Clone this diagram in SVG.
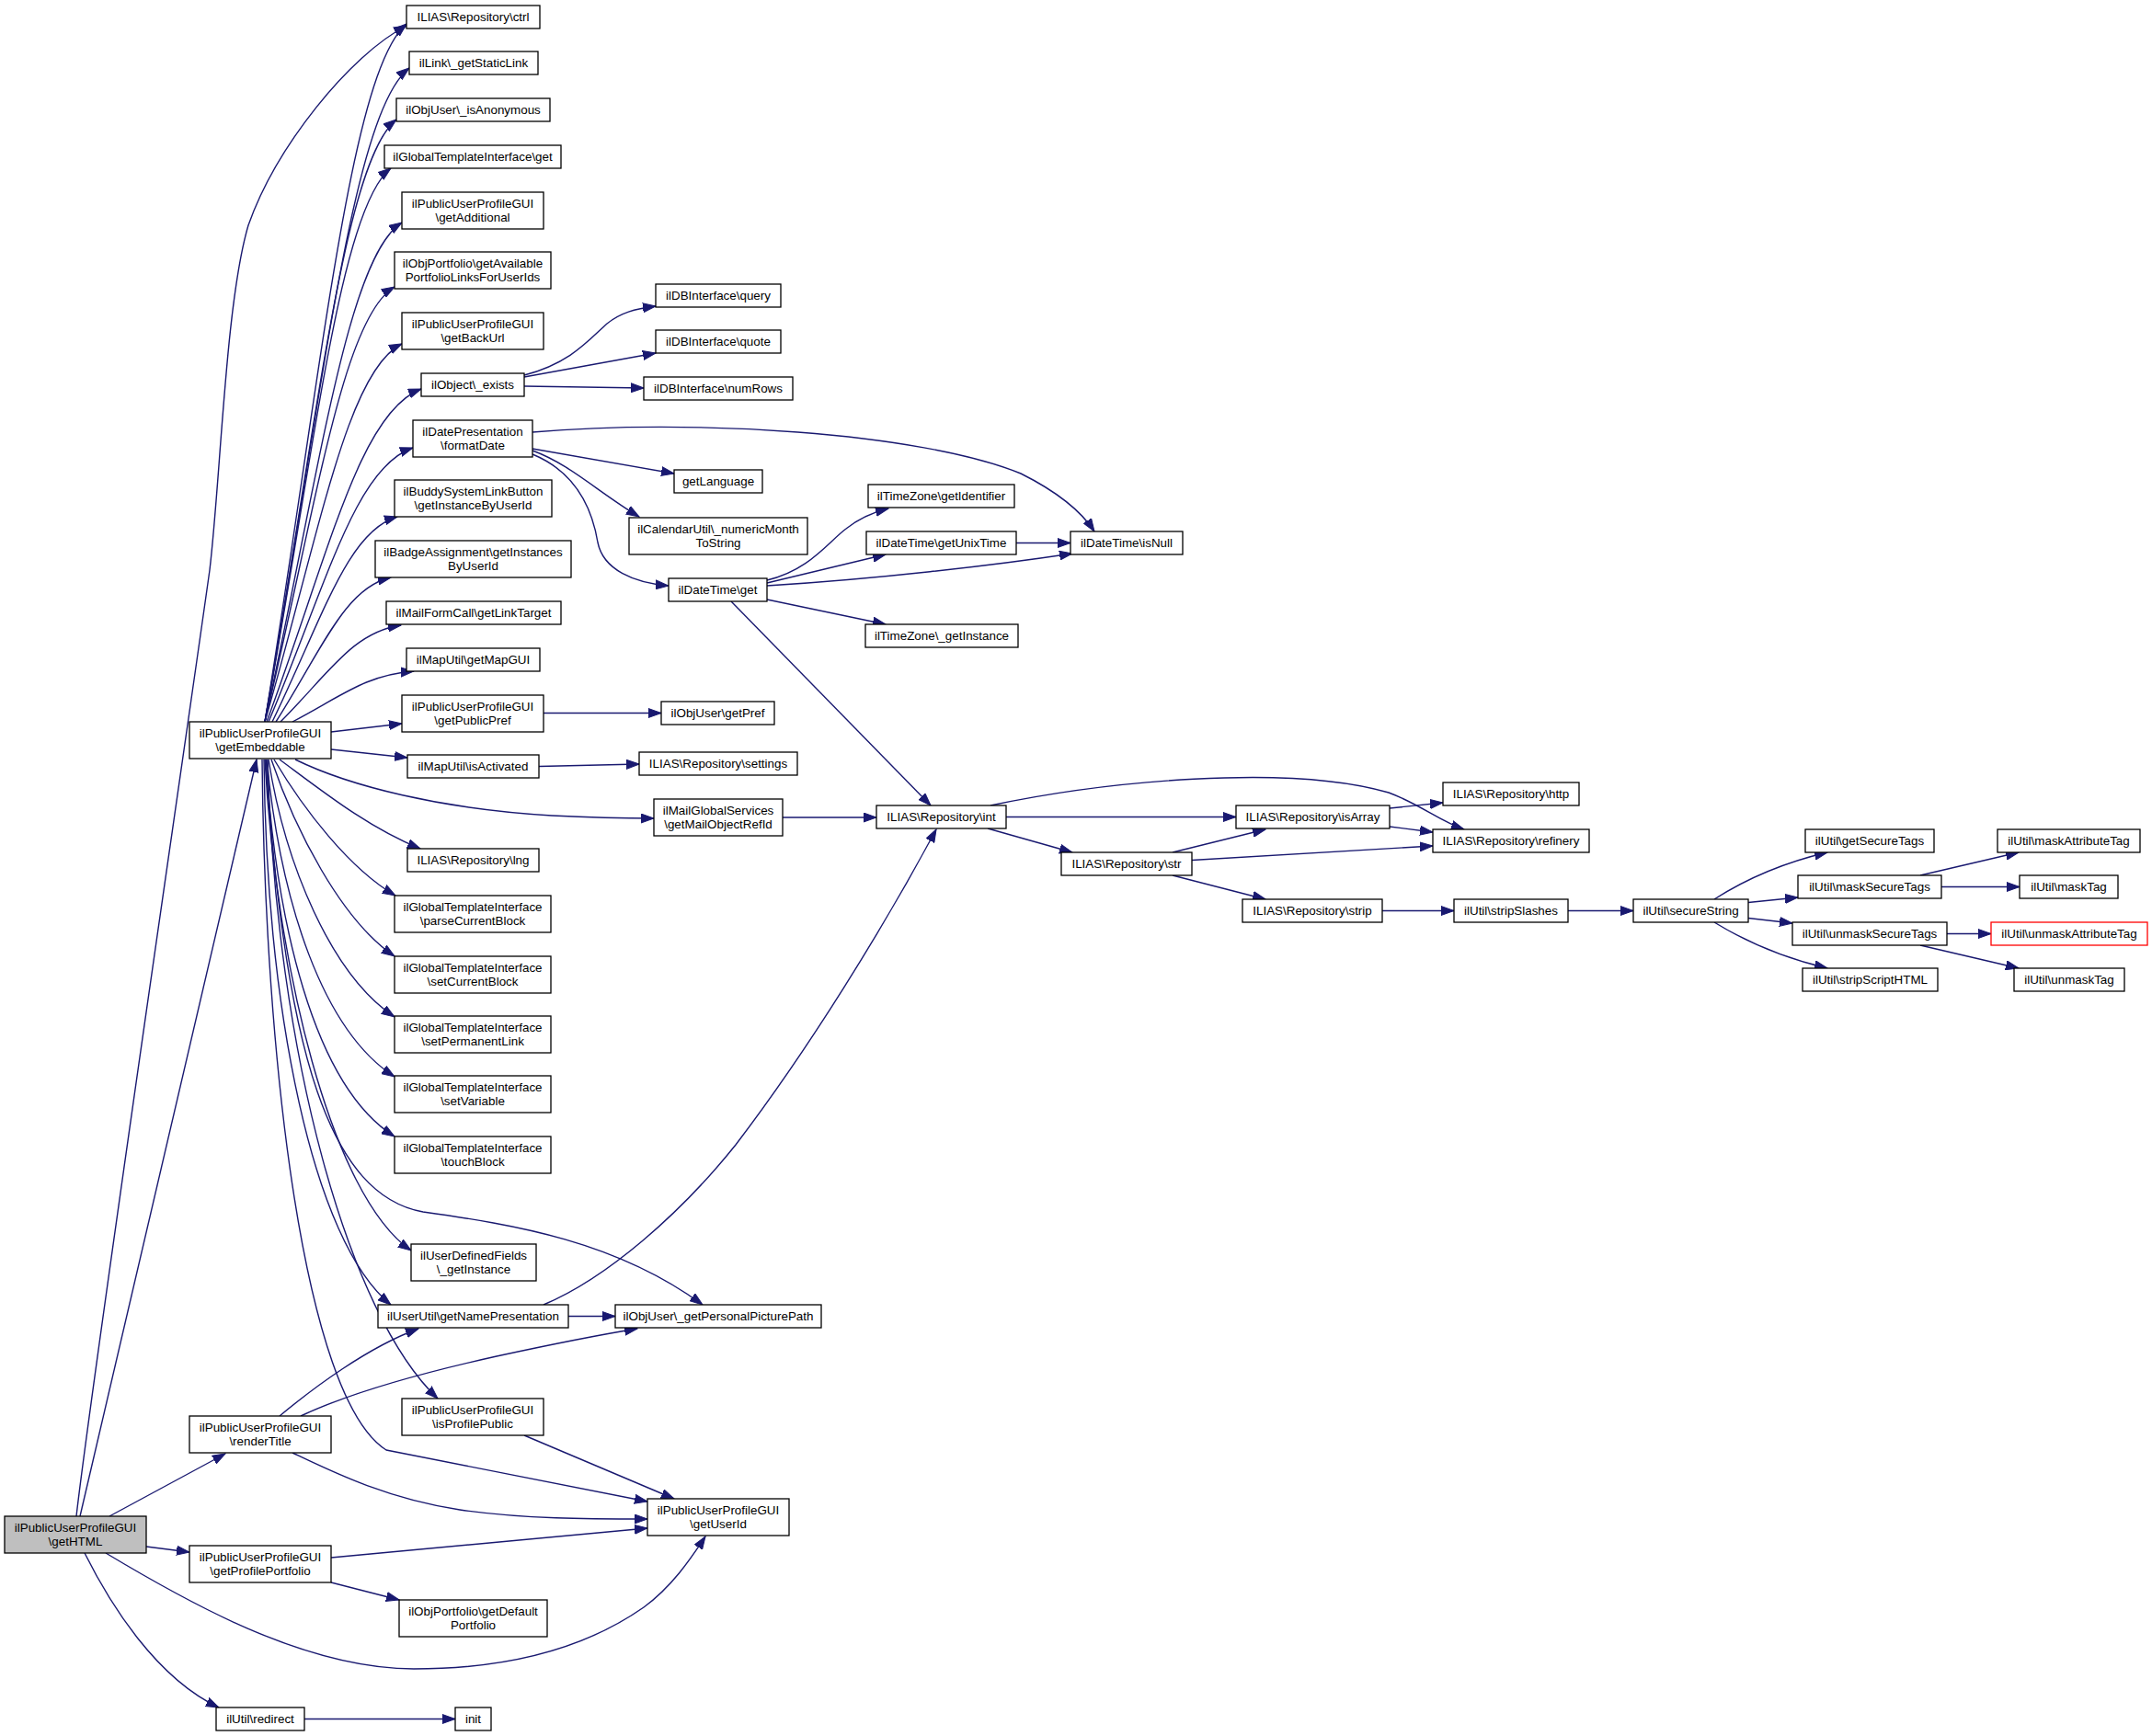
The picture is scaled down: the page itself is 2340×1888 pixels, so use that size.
<svg xmlns="http://www.w3.org/2000/svg" width="2340" height="1888" viewBox="0 0 2340 1888">
<style>
.node rect{fill:#fff;stroke:#000;stroke-width:1.3}
.node rect.main{fill:#bfbfbf}
.node rect.red{stroke:#ff0000}
.node text{font-family:"Liberation Sans",Arial,Helvetica,sans-serif;font-size:13.4px;text-anchor:middle;fill:#000}
.edges path{fill:none;stroke:#191970;stroke-width:1.4;marker-end:url(#arr)}
</style>
<defs>
<marker id="arr" markerUnits="userSpaceOnUse" markerWidth="15" markerHeight="11" refX="14" refY="5.5" orient="auto" viewBox="0 0 15 11"><path d="M0,0.5 L14,5.5 L0,10.5 z" fill="#191970" stroke="#191970" stroke-width="1"/></marker>
</defs>
<rect x="0" y="0" width="2340" height="1888" fill="#fff"/>
<g class="edges" id="connectors">
<path d="M83,1649 C100,1500 200,820 228,620 C240,520 245,330 270,245 C300,160 380,60 442,28"/>
<path d="M87,1649 L279,826"/>
<path d="M119,1649 L245,1581"/>
<path d="M159,1682 L206,1688"/>
<path d="M115,1689 C200,1740 330,1815 450,1815 C560,1815 640,1790 700,1748 C730,1726 750,1697 767,1671"/>
<path d="M92,1689 C120,1745 170,1825 238,1857"/>
<path d="M304,1540 C340,1510 400,1465 455,1445"/>
<path d="M327,1540 C380,1515 450,1495 540,1475 C600,1462 650,1452 693,1445"/>
<path d="M318,1580 C360,1600 420,1630 500,1642 C570,1652 640,1652 704,1652"/>
<path d="M360,1694 L704,1662"/>
<path d="M360,1721 L434,1740"/>
<path d="M331,1869.5 L495,1869.5"/>
<path d="M570,1561 L733,1630"/>
<path d="M288,785 C349.6,405.5 380.4,79 442,26"/>
<path d="M288,785 C350.8,429.5 382.2,123.8 445,74"/>
<path d="M288,785 C345.2,457.5 373.8,175.9 431,130"/>
<path d="M288,785 C342.8,484 370.2,225.1 425,183"/>
<path d="M288,785 C347.6,513.5 377.4,280 437,242"/>
<path d="M288,785 C344.4,548.5 372.6,345.1 429,312"/>
<path d="M288,785 C347.6,579.5 377.4,402.8 437,374"/>
<path d="M290,785 C357.2,604 390.8,448.3 458,423"/>
<path d="M292,785 C354.8,636 386.2,507.9 449,487"/>
<path d="M296,785 C350.4,673.5 377.6,577.6 432,562"/>
<path d="M300,785 C350,706.5 375,639 425,628"/>
<path d="M305,785 C357.4,732.5 383.6,687.4 436,680"/>
<path d="M318,785 C370.8,757.5 397.2,733.9 450,730"/>
<path d="M360,796 L437,787"/>
<path d="M360,815 L443,824"/>
<path d="M321,826 C380,855 480,880 600,887 C640,889 680,890 711,890"/>
<path d="M304,826 C350,860 400,900 457,923"/>
<path d="M298,826 C330,880 380,945 430,974"/>
<path d="M295,826 C320,900 370,1000 429,1040"/>
<path d="M292,826 C310,940 360,1060 429,1106"/>
<path d="M290,826 C305,980 350,1120 429,1171"/>
<path d="M289,826 C300,1000 340,1180 429,1236"/>
<path d="M288,826 C300,1050 360,1300 447,1360"/>
<path d="M287,826 C290,1100 340,1350 425,1419"/>
<path d="M289,826 C310,1150 360,1300 460,1318 C560,1332 670,1350 764,1419"/>
<path d="M291,826 C300,1150 380,1430 476,1521"/>
<path d="M285,826 C288,1150 330,1520 420,1577 L704,1633"/>
<path d="M570,408 C620,395 640,370 660,352 C675,340 690,336 713,333"/>
<path d="M570,410 L713,384"/>
<path d="M570,420 L700,422"/>
<path d="M579,470 C750,455 1000,470 1110,515 C1150,535 1175,555 1190,578"/>
<path d="M579,488 L733,515"/>
<path d="M579,490 C620,505 650,535 695,562"/>
<path d="M579,494 C630,515 645,560 650,590 C656,620 690,634 727,637"/>
<path d="M834,631 C880,620 900,590 920,575 C935,563 950,557 966,553"/>
<path d="M834,634 L963,603"/>
<path d="M834,637 C950,630 1080,615 1166,602"/>
<path d="M1105,590.5 L1164,590.5"/>
<path d="M834,652 L963,679"/>
<path d="M795,654 L1012,876"/>
<path d="M591,775.5 L719,775.5"/>
<path d="M586,833.5 L695,831"/>
<path d="M851,889 L953,889"/>
<path d="M591,1419 C660,1390 740,1320 800,1245 C880,1140 960,1010 1018,902"/>
<path d="M618,1431.5 L669,1431.5"/>
<path d="M1094,888.5 L1344,888.5"/>
<path d="M1074,901 L1166,927"/>
<path d="M1077,876 C1200,850 1400,830 1510,862 C1545,875 1565,893 1592,902"/>
<path d="M1511,879 L1569,873"/>
<path d="M1511,899 L1558,905"/>
<path d="M1275,927 L1376,902"/>
<path d="M1296,935.5 L1558,920"/>
<path d="M1275,952 L1376,978"/>
<path d="M1503,990.5 L1581,990.5"/>
<path d="M1705,990.5 L1776,990.5"/>
<path d="M1864,978 C1900,955 1940,938 1987,927"/>
<path d="M1901,981.5 L1955,976"/>
<path d="M1901,998.5 L1949,1004"/>
<path d="M1864,1003 C1900,1025 1940,1042 1987,1053"/>
<path d="M2088,952 L2195,927"/>
<path d="M2111,964.5 L2196,964.5"/>
<path d="M2117,1015.5 L2165,1015.5"/>
<path d="M2088,1028 L2195,1053"/>
</g>
<g class="node" id="n_getHTML"><rect class="main" x="5" y="1649" width="154" height="40"/><text x="82" y="1665.5">ilPublicUserProfileGUI</text><text x="82" y="1680.5">\getHTML</text></g>
<g class="node" id="n_getEmbeddable"><rect x="206" y="785" width="154" height="40"/><text x="283" y="801.5">ilPublicUserProfileGUI</text><text x="283" y="816.5">\getEmbeddable</text></g>
<g class="node" id="n_renderTitle"><rect x="206" y="1540" width="154" height="40"/><text x="283" y="1556.5">ilPublicUserProfileGUI</text><text x="283" y="1571.5">\renderTitle</text></g>
<g class="node" id="n_getProfilePortfolio"><rect x="206" y="1681" width="154" height="40"/><text x="283" y="1697.5">ilPublicUserProfileGUI</text><text x="283" y="1712.5">\getProfilePortfolio</text></g>
<g class="node" id="n_redirect"><rect x="235" y="1857" width="96" height="25"/><text x="283" y="1874">ilUtil\redirect</text></g>
<g class="node" id="n_ctrl"><rect x="442" y="6" width="145" height="25"/><text x="514.5" y="23">ILIAS\Repository\ctrl</text></g>
<g class="node" id="n_getStaticLink"><rect x="445" y="56" width="140" height="25"/><text x="515" y="73">ilLink\_getStaticLink</text></g>
<g class="node" id="n_isAnonymous"><rect x="431" y="107" width="167" height="25"/><text x="514.5" y="124">ilObjUser\_isAnonymous</text></g>
<g class="node" id="n_gti_get"><rect x="418" y="158" width="192" height="25"/><text x="514" y="175">ilGlobalTemplateInterface\get</text></g>
<g class="node" id="n_getAdditional"><rect x="437" y="209" width="154" height="40"/><text x="514" y="225.5">ilPublicUserProfileGUI</text><text x="514" y="240.5">\getAdditional</text></g>
<g class="node" id="n_getAvailable"><rect x="429" y="274" width="170" height="40"/><text x="514" y="290.5">ilObjPortfolio\getAvailable</text><text x="514" y="305.5">PortfolioLinksForUserIds</text></g>
<g class="node" id="n_getBackUrl"><rect x="437" y="340" width="154" height="40"/><text x="514" y="356.5">ilPublicUserProfileGUI</text><text x="514" y="371.5">\getBackUrl</text></g>
<g class="node" id="n_exists"><rect x="458" y="406" width="112" height="25"/><text x="514" y="423">ilObject\_exists</text></g>
<g class="node" id="n_formatDate"><rect x="449" y="457" width="130" height="40"/><text x="514" y="473.5">ilDatePresentation</text><text x="514" y="488.5">\formatDate</text></g>
<g class="node" id="n_buddy"><rect x="429" y="522" width="171" height="40"/><text x="514.5" y="538.5">ilBuddySystemLinkButton</text><text x="514.5" y="553.5">\getInstanceByUserId</text></g>
<g class="node" id="n_badge"><rect x="408" y="588" width="213" height="40"/><text x="514.5" y="604.5">ilBadgeAssignment\getInstances</text><text x="514.5" y="619.5">ByUserId</text></g>
<g class="node" id="n_mailFormCall"><rect x="420" y="654" width="190" height="25"/><text x="515" y="671">ilMailFormCall\getLinkTarget</text></g>
<g class="node" id="n_getMapGUI"><rect x="442" y="705" width="145" height="25"/><text x="514.5" y="722">ilMapUtil\getMapGUI</text></g>
<g class="node" id="n_getPublicPref"><rect x="437" y="756" width="154" height="40"/><text x="514" y="772.5">ilPublicUserProfileGUI</text><text x="514" y="787.5">\getPublicPref</text></g>
<g class="node" id="n_isActivated"><rect x="443" y="821" width="143" height="25"/><text x="514.5" y="838">ilMapUtil\isActivated</text></g>
<g class="node" id="n_lng"><rect x="443" y="923" width="143" height="25"/><text x="514.5" y="940">ILIAS\Repository\lng</text></g>
<g class="node" id="n_parseCurrentBlock"><rect x="429" y="974" width="170" height="40"/><text x="514" y="990.5">ilGlobalTemplateInterface</text><text x="514" y="1005.5">\parseCurrentBlock</text></g>
<g class="node" id="n_setCurrentBlock"><rect x="429" y="1040" width="170" height="40"/><text x="514" y="1056.5">ilGlobalTemplateInterface</text><text x="514" y="1071.5">\setCurrentBlock</text></g>
<g class="node" id="n_setPermanentLink"><rect x="429" y="1105" width="170" height="40"/><text x="514" y="1121.5">ilGlobalTemplateInterface</text><text x="514" y="1136.5">\setPermanentLink</text></g>
<g class="node" id="n_setVariable"><rect x="429" y="1170" width="170" height="40"/><text x="514" y="1186.5">ilGlobalTemplateInterface</text><text x="514" y="1201.5">\setVariable</text></g>
<g class="node" id="n_touchBlock"><rect x="429" y="1236" width="170" height="40"/><text x="514" y="1252.5">ilGlobalTemplateInterface</text><text x="514" y="1267.5">\touchBlock</text></g>
<g class="node" id="n_udf"><rect x="447" y="1353" width="136" height="40"/><text x="515" y="1369.5">ilUserDefinedFields</text><text x="515" y="1384.5">\_getInstance</text></g>
<g class="node" id="n_getNamePresentation"><rect x="411" y="1419" width="207" height="25"/><text x="514.5" y="1436">ilUserUtil\getNamePresentation</text></g>
<g class="node" id="n_isProfilePublic"><rect x="437" y="1521" width="154" height="40"/><text x="514" y="1537.5">ilPublicUserProfileGUI</text><text x="514" y="1552.5">\isProfilePublic</text></g>
<g class="node" id="n_getDefaultPortfolio"><rect x="434" y="1740" width="161" height="40"/><text x="514.5" y="1756.5">ilObjPortfolio\getDefault</text><text x="514.5" y="1771.5">Portfolio</text></g>
<g class="node" id="n_init"><rect x="495" y="1857" width="39" height="25"/><text x="514.5" y="1874">init</text></g>
<g class="node" id="n_query"><rect x="713" y="309" width="136" height="25"/><text x="781" y="326">ilDBInterface\query</text></g>
<g class="node" id="n_quote"><rect x="713" y="359" width="136" height="25"/><text x="781" y="376">ilDBInterface\quote</text></g>
<g class="node" id="n_numRows"><rect x="700" y="410" width="162" height="25"/><text x="781" y="427">ilDBInterface\numRows</text></g>
<g class="node" id="n_getLanguage"><rect x="733" y="511" width="96" height="25"/><text x="781" y="528">getLanguage</text></g>
<g class="node" id="n_numericMonth"><rect x="684" y="563" width="194" height="40"/><text x="781" y="579.5">ilCalendarUtil\_numericMonth</text><text x="781" y="594.5">ToString</text></g>
<g class="node" id="n_dt_get"><rect x="727" y="629" width="107" height="25"/><text x="780.5" y="646">ilDateTime\get</text></g>
<g class="node" id="n_getIdentifier"><rect x="944" y="527" width="159" height="25"/><text x="1023.5" y="544">ilTimeZone\getIdentifier</text></g>
<g class="node" id="n_getUnixTime"><rect x="942" y="578" width="163" height="25"/><text x="1023.5" y="595">ilDateTime\getUnixTime</text></g>
<g class="node" id="n_isNull"><rect x="1164" y="578" width="122" height="25"/><text x="1225" y="595">ilDateTime\isNull</text></g>
<g class="node" id="n_tz_getInstance"><rect x="941" y="679" width="166" height="25"/><text x="1024" y="696">ilTimeZone\_getInstance</text></g>
<g class="node" id="n_getPref"><rect x="719" y="763" width="123" height="25"/><text x="780.5" y="780">ilObjUser\getPref</text></g>
<g class="node" id="n_settings"><rect x="695" y="818" width="172" height="25"/><text x="781" y="835">ILIAS\Repository\settings</text></g>
<g class="node" id="n_mailGlobal"><rect x="711" y="869" width="140" height="40"/><text x="781" y="885.5">ilMailGlobalServices</text><text x="781" y="900.5">\getMailObjectRefId</text></g>
<g class="node" id="n_int"><rect x="953" y="876" width="141" height="25"/><text x="1023.5" y="893">ILIAS\Repository\int</text></g>
<g class="node" id="n_picturePath"><rect x="669" y="1419" width="224" height="25"/><text x="781" y="1436">ilObjUser\_getPersonalPicturePath</text></g>
<g class="node" id="n_getUserId"><rect x="704" y="1630" width="154" height="40"/><text x="781" y="1646.5">ilPublicUserProfileGUI</text><text x="781" y="1661.5">\getUserId</text></g>
<g class="node" id="n_isArray"><rect x="1344" y="876" width="167" height="25"/><text x="1427.5" y="893">ILIAS\Repository\isArray</text></g>
<g class="node" id="n_http"><rect x="1569" y="851" width="148" height="25"/><text x="1643" y="868">ILIAS\Repository\http</text></g>
<g class="node" id="n_refinery"><rect x="1558" y="902" width="170" height="25"/><text x="1643" y="919">ILIAS\Repository\refinery</text></g>
<g class="node" id="n_str"><rect x="1154" y="927" width="142" height="25"/><text x="1225" y="944">ILIAS\Repository\str</text></g>
<g class="node" id="n_strip"><rect x="1351" y="978" width="152" height="25"/><text x="1427" y="995">ILIAS\Repository\strip</text></g>
<g class="node" id="n_stripSlashes"><rect x="1581" y="978" width="124" height="25"/><text x="1643" y="995">ilUtil\stripSlashes</text></g>
<g class="node" id="n_secureString"><rect x="1776" y="978" width="125" height="25"/><text x="1838.5" y="995">ilUtil\secureString</text></g>
<g class="node" id="n_getSecureTags"><rect x="1963" y="902" width="140" height="25"/><text x="2033" y="919">ilUtil\getSecureTags</text></g>
<g class="node" id="n_maskSecureTags"><rect x="1955" y="952" width="156" height="25"/><text x="2033" y="969">ilUtil\maskSecureTags</text></g>
<g class="node" id="n_unmaskSecureTags"><rect x="1949" y="1003" width="168" height="25"/><text x="2033" y="1020">ilUtil\unmaskSecureTags</text></g>
<g class="node" id="n_stripScriptHTML"><rect x="1960" y="1053" width="147" height="25"/><text x="2033.5" y="1070">ilUtil\stripScriptHTML</text></g>
<g class="node" id="n_maskAttributeTag"><rect x="2172" y="902" width="155" height="25"/><text x="2249.5" y="919">ilUtil\maskAttributeTag</text></g>
<g class="node" id="n_maskTag"><rect x="2196" y="952" width="107" height="25"/><text x="2249.5" y="969">ilUtil\maskTag</text></g>
<g class="node" id="n_unmaskAttributeTag"><rect class="red" x="2165" y="1003" width="170" height="25"/><text x="2250" y="1020">ilUtil\unmaskAttributeTag</text></g>
<g class="node" id="n_unmaskTag"><rect x="2190" y="1053" width="120" height="25"/><text x="2250" y="1070">ilUtil\unmaskTag</text></g>
</svg>
